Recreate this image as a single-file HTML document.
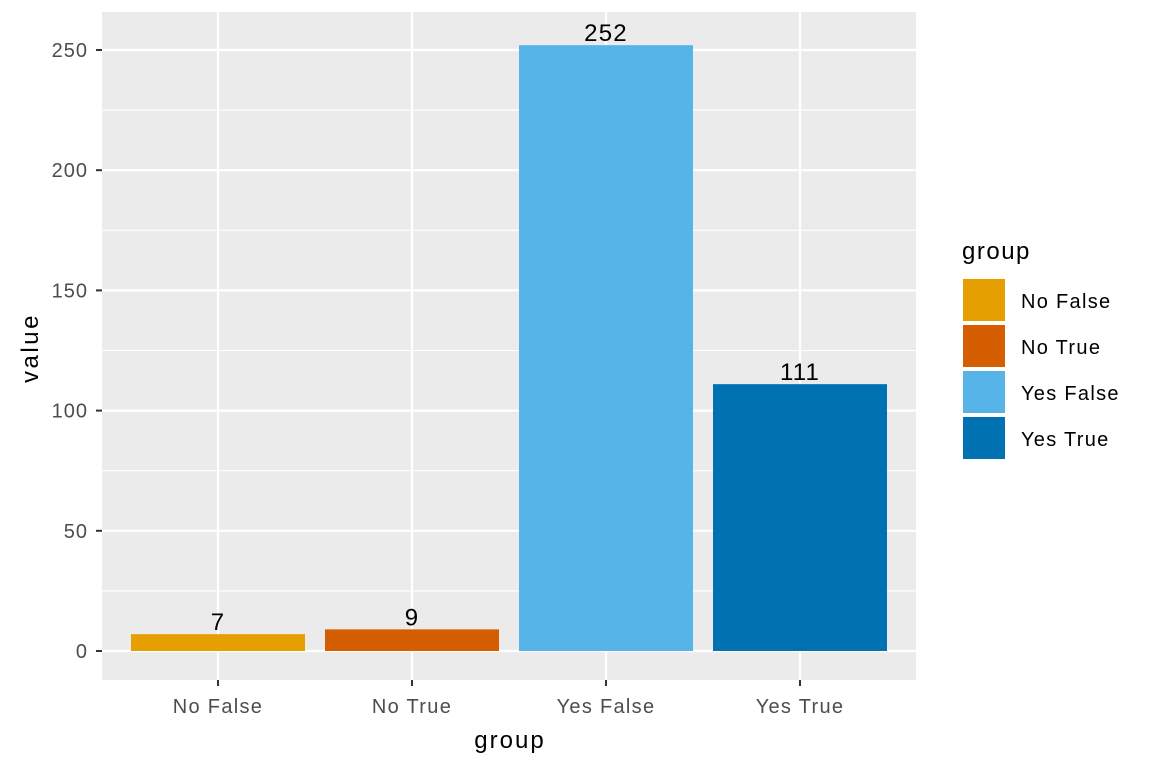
<!DOCTYPE html>
<html><head><meta charset="utf-8">
<style>
html,body{margin:0;padding:0;background:#fff;}
svg{display:block;font-family:"Liberation Sans",Arial,sans-serif;}
</style></head>
<body>
<svg id="chart" width="1152" height="768">
  <rect x="102" y="12" width="814" height="668" fill="#ebebeb"/>
  <g id="grid"></g>
  <g id="bars"></g>
  <g id="ticks"></g>
  <text x="510" y="748" font-size="24" letter-spacing="2" text-anchor="middle" fill="#000">group</text>
  <text transform="translate(38,348) rotate(-90)" font-size="24" letter-spacing="2.5" text-anchor="middle" fill="#000">value</text>
  <g id="legend">
    <text x="962" y="259" font-size="24" letter-spacing="1.5" fill="#000">group</text>
  </g>
</svg>
<script>
const categories = ["No False","No True","Yes False","Yes True"];
const values = [7, 9, 252, 111];
const colors = ["#E69F00","#D55E00","#56B4E9","#0072B2"];
const yTicks = [0, 50, 100, 150, 200, 250];
const yMinor = [25, 75, 125, 175, 225];

const NS = "http://www.w3.org/2000/svg";
const panel = {x0:102, x1:916, y0:12, y1:680};
function yScale(v){ return 651 - v * (601/250); }
function xCenter(i){ return 218 + i * 194; }
const bandW = 174;

function mk(tag, attrs, parent){
  const e = document.createElementNS(NS, tag);
  for (const k in attrs) e.setAttribute(k, attrs[k]);
  parent.appendChild(e);
  return e;
}
const grid = document.getElementById('grid');
const bars = document.getElementById('bars');
const ticks = document.getElementById('ticks');
const legend = document.getElementById('legend');

yMinor.forEach(v=>{
  const l = mk('line',{x1:panel.x0,x2:panel.x1,y1:yScale(v),y2:yScale(v),stroke:'#fff','stroke-width':1.1},grid);
  
  
});
yTicks.forEach(v=>{
  const l = mk('line',{x1:panel.x0,x2:panel.x1,y1:yScale(v),y2:yScale(v),stroke:'#fff','stroke-width':2.2},grid);
  
  
  const t = mk('line',{x1:96,x2:102,y1:yScale(v),y2:yScale(v),stroke:'#333','stroke-width':2},ticks);
  
  
  const tx = mk('text',{x:88,y:yScale(v)+7,'font-size':20,'letter-spacing':1,'text-anchor':'end',fill:'#4d4d4d'},ticks);
  tx.textContent = v;
  
  
});
categories.forEach((c,i)=>{
  const cx = xCenter(i);
  const l = mk('line',{x1:cx,x2:cx,y1:panel.y0,y2:panel.y1,stroke:'#fff','stroke-width':2.2},grid);
  
  
  const t = mk('line',{x1:cx,x2:cx,y1:680,y2:686,stroke:'#333','stroke-width':2},ticks);
  
  
  const tx = mk('text',{x:cx,y:713,'font-size':20,'letter-spacing':1.3,'text-anchor':'middle',fill:'#4d4d4d'},ticks);
  tx.textContent = c;
  
  

  const y = yScale(values[i]);
  const b = mk('rect',{x:cx-bandW/2,y:y,width:bandW,height:yScale(0)-y,fill:colors[i]},bars);
  
  
  const lab = mk('text',{x:cx,y:y-4,'font-size':24,'letter-spacing':1.2,'text-anchor':'middle',fill:'#000'},bars);
  lab.textContent = values[i];
  
  

  const ky = 278 + i*46;
  const k = mk('rect',{x:962,y:ky,width:44,height:44,fill:colors[i],stroke:'#fff','stroke-width':2},legend);
  
  
  const lt = mk('text',{x:1021,y:ky+30,'font-size':20,'letter-spacing':1.3,fill:'#000'},legend);
  lt.textContent = c;
  
  
});
</script>
</body></html>
